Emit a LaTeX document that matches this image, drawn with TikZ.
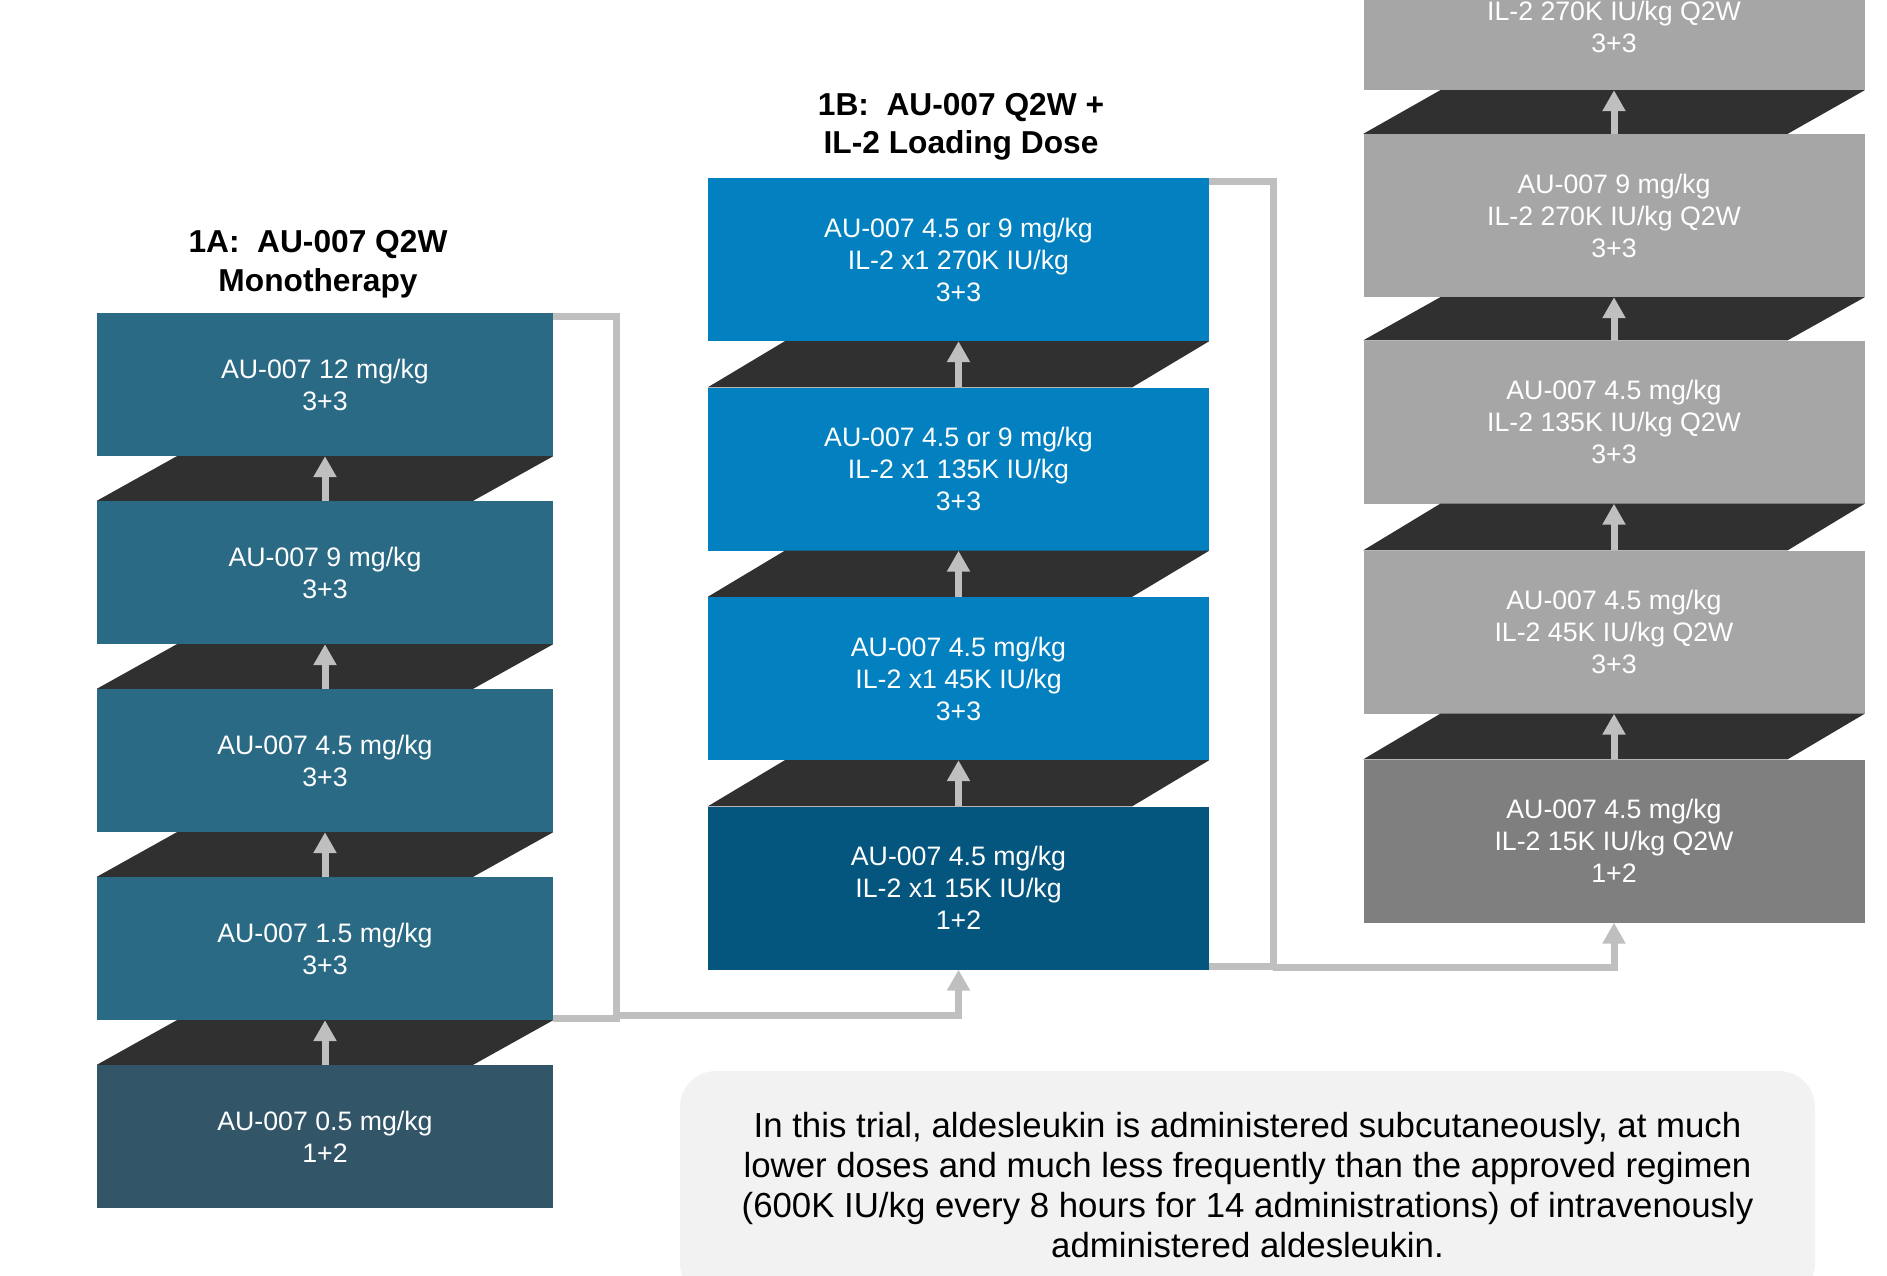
\documentclass[tikz,border=0pt]{standalone}
\usepackage{fontspec}
\setmainfont{Liberation Sans}
\usetikzlibrary{arrows.meta}
\definecolor{monoteal}{HTML}{2A6A84}
\definecolor{monotealdark}{HTML}{325568}
\definecolor{loadblue}{HTML}{0280BF}
\definecolor{loadbluedark}{HTML}{04567E}
\definecolor{qgray}{HTML}{A6A6A6}
\definecolor{qgraydark}{HTML}{7F7F7F}
\definecolor{bandgray}{HTML}{303030}
\definecolor{linkgray}{HTML}{BFBFBF}
\definecolor{notegray}{HTML}{F2F2F2}
\tikzset{
  dosebox/.style={minimum width=456pt, minimum height=143pt, inner sep=0pt, align=center,
    text=white, font=\fontsize{26.7}{32}\selectfont},
  widebox/.style={dosebox, minimum width=501pt, minimum height=163pt},
  armtitle/.style={align=center, font=\fontsize{31.7}{38.5}\selectfont\bfseries},
  link/.style={draw=linkgray, line width=7pt},
  stepup/.style={link, -{Triangle[width=22pt,length=21pt]}}
}
\newcommand{\band}[3]{\fill[bandgray] (#1.north west) -- ([xshift=-#3pt]#1.north east) -- (#2.south east) -- ([xshift=#3pt]#2.south west) -- cycle;}
\begin{document}
\begin{tikzpicture}[x=1pt,y=-1pt]
  \useasboundingbox (0,0) rectangle (1887,1275);
  \node [armtitle] (t1a) at (318,264) {1A:\ \ AU-007 Q2W\\Monotherapy};
  \node [armtitle] (t1b) at (961,127) {1B:\ \ AU-007 Q2W +\\IL-2 Loading Dose};

  \node [dosebox, fill=monotealdark] (a1) at (325,1136.5) {AU-007 0.5 mg/kg\\1+2};
  \node [dosebox, fill=monoteal] (a2) at (325,948.5) {AU-007 1.5 mg/kg\\3+3};
  \node [dosebox, fill=monoteal] (a3) at (325,760.5) {AU-007 4.5 mg/kg\\3+3};
  \node [dosebox, fill=monoteal] (a4) at (325,572.5) {AU-007 9 mg/kg\\3+3};
  \node [dosebox, fill=monoteal] (a5) at (325,384.5) {AU-007 12 mg/kg\\3+3};

  \node [widebox, fill=loadbluedark] (b1) at (958.5,888) {AU-007 4.5 mg/kg\\IL-2 x1 15K IU/kg\\1+2};
  \node [widebox, fill=loadblue] (b2) at (958.5,678.5) {AU-007 4.5 mg/kg\\IL-2 x1 45K IU/kg\\3+3};
  \node [widebox, fill=loadblue] (b3) at (958.5,469) {AU-007 4.5 or 9 mg/kg\\IL-2 x1 135K IU/kg\\3+3};
  \node [widebox, fill=loadblue] (b4) at (958.5,259.5) {AU-007 4.5 or 9 mg/kg\\IL-2 x1 270K IU/kg\\3+3};

  \node [widebox, fill=qgraydark] (c1) at (1614,841) {AU-007 4.5 mg/kg\\IL-2 15K IU/kg Q2W\\1+2};
  \node [widebox, fill=qgray] (c2) at (1614,632) {AU-007 4.5 mg/kg\\IL-2 45K IU/kg Q2W\\3+3};
  \node [widebox, fill=qgray] (c3) at (1614,422) {AU-007 4.5 mg/kg\\IL-2 135K IU/kg Q2W\\3+3};
  \node [widebox, fill=qgray] (c4) at (1614,215.5) {AU-007 9 mg/kg\\IL-2 270K IU/kg Q2W\\3+3};
  \node [widebox, fill=qgray, minimum height=138pt] (c5) at (1614,21) {\mbox{}\\IL-2 270K IU/kg Q2W\\3+3};

  \band{a1}{a2}{80} \band{a2}{a3}{80} \band{a3}{a4}{80} \band{a4}{a5}{80}
  \band{b1}{b2}{77} \band{b2}{b3}{77} \band{b3}{b4}{77}
  \band{c1}{c2}{77} \band{c2}{c3}{77} \band{c3}{c4}{77} \band{c4}{c5}{77}

  \draw [stepup] (a1.north) -- (a2.south);
  \draw [stepup] (a2.north) -- (a3.south);
  \draw [stepup] (a3.north) -- (a4.south);
  \draw [stepup] (a4.north) -- (a5.south);
  \draw [stepup] (b1.north) -- (b2.south);
  \draw [stepup] (b2.north) -- (b3.south);
  \draw [stepup] (b3.north) -- (b4.south);
  \draw [stepup] (c1.north) -- (c2.south);
  \draw [stepup] (c2.north) -- (c3.south);
  \draw [stepup] (c3.north) -- (c4.south);
  \draw [stepup] (c4.north) -- (c5.south);

  \coordinate (jA) at (616,1015);
  \coordinate (jB) at (1273,967);
  \draw [link] ([yshift=-4pt]a5.north east) -| (jA) |- ([yshift=2pt]a2.south east);
  \draw [stepup] (jA) -| (b1.south);
  \draw [link] ([yshift=-4pt]b4.north east) -| (jB) |- ([yshift=3pt]b1.south east);
  \draw [stepup] (jB) -| (c1.south);

  \node [fill=notegray, rounded corners=36pt, minimum width=1135pt, minimum height=228pt, align=center,
    font=\fontsize{34.8}{40}\selectfont] (note) at (1247.5,1185)
    {In this trial, aldesleukin is administered subcutaneously, at much\\
     lower doses and much less frequently than the approved regimen\\
     (600K IU/kg every 8 hours for 14 administrations) of intravenously\\
     administered aldesleukin.};
\end{tikzpicture}
\end{document}
